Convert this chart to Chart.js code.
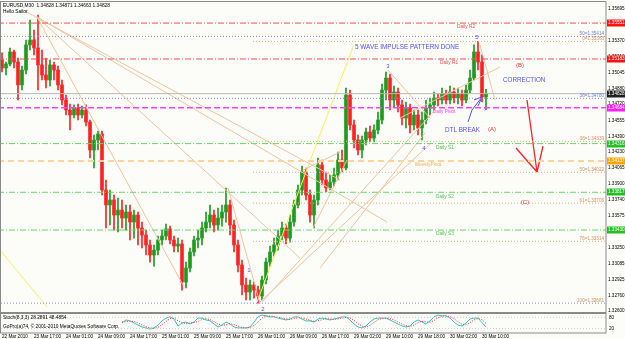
<!DOCTYPE html>
<html>
<head>
<meta charset="utf-8">
<script src="https://cdn.jsdelivr.net/npm/chart.js@4.4.0/dist/chart.umd.min.js"></script>
<style>
  html, body { margin: 0; padding: 0; background: #fcfcf8; }
  canvas { display: block; }
</style>
</head>
<body>
<canvas id="eurusd_chart" width="625" height="339"></canvas>
<script>
// EURUSD M30, one entry per candle
const bar_open = [
  1.35173, 1.35091, 1.35132, 1.35255, 1.35152, 1.34917, 1.35070, 1.35327, 1.35378, 1.35296,
  1.35122, 1.35019, 1.34968, 1.35122, 1.35070, 1.34917, 1.34763, 1.34660, 1.34609, 1.34681,
  1.34609, 1.34660, 1.34537, 1.34250, 1.34353, 1.34414, 1.33840, 1.33687, 1.33738, 1.33584,
  1.33635, 1.33553, 1.33615, 1.33512, 1.33584, 1.33451, 1.33379, 1.33277, 1.33174, 1.33225,
  1.33328, 1.33369, 1.33441, 1.33328, 1.33266, 1.33287, 1.32897, 1.33041, 1.33205, 1.33328,
  1.33348, 1.33451, 1.33512, 1.33584, 1.33482, 1.33553, 1.33615, 1.33687, 1.33482, 1.33277,
  1.33072, 1.32867, 1.32795, 1.32867, 1.32815, 1.32754, 1.32918, 1.33102, 1.33205, 1.33277,
  1.33369, 1.33451, 1.33348, 1.33512, 1.33687, 1.33840, 1.34025, 1.33789, 1.33584, 1.33738,
  1.34097, 1.33943, 1.33861, 1.33922, 1.33994, 1.34148, 1.34066, 1.34814, 1.34507, 1.34353,
  1.34250, 1.34353, 1.34435, 1.34373, 1.34455, 1.34558, 1.34865, 1.34988, 1.34763, 1.34845,
  1.34712, 1.34578, 1.34681, 1.34507, 1.34609, 1.34476, 1.34558, 1.34681, 1.34712, 1.34783,
  1.34763, 1.34824, 1.34763, 1.34845, 1.34783, 1.34824, 1.34763, 1.34865, 1.34988, 1.35255,
  1.35152, 1.34794
];
const bar_high = [
  1.35245, 1.35152, 1.35296, 1.35275, 1.35193, 1.35111, 1.35378, 1.35583, 1.35480, 1.35634,
  1.35275, 1.35193, 1.35173, 1.35152, 1.35111, 1.34968, 1.34814, 1.34722, 1.34712, 1.34722,
  1.34701, 1.34712, 1.34558, 1.34404, 1.34445, 1.34445, 1.33943, 1.33840, 1.33789, 1.33758,
  1.33738, 1.33687, 1.33687, 1.33635, 1.33615, 1.33512, 1.33430, 1.33328, 1.33277, 1.33369,
  1.33430, 1.33492, 1.33471, 1.33369, 1.33348, 1.33328, 1.33102, 1.33246, 1.33369, 1.33430,
  1.33512, 1.33615, 1.33687, 1.33635, 1.33656, 1.33687, 1.33861, 1.33738, 1.33533, 1.33328,
  1.33123, 1.32938, 1.32918, 1.32897, 1.32856, 1.32959, 1.33143, 1.33266, 1.33348, 1.33430,
  1.33512, 1.33492, 1.33584, 1.33738, 1.33892, 1.34086, 1.34066, 1.33840, 1.33789, 1.34168,
  1.34148, 1.34025, 1.33994, 1.34066, 1.34230, 1.34250, 1.34886, 1.34865, 1.34558, 1.34404,
  1.34394, 1.34476, 1.34496, 1.34507, 1.34640, 1.34927, 1.35050, 1.35029, 1.34906, 1.34886,
  1.34763, 1.34742, 1.34722, 1.34660, 1.34660, 1.34640, 1.34763, 1.34783, 1.34845, 1.34824,
  1.34886, 1.34865, 1.34906, 1.34886, 1.34886, 1.34865, 1.34917, 1.35070, 1.35327, 1.35363,
  1.35224, 1.34871
];
const bar_low = [
  1.35050, 1.35019, 1.35111, 1.35091, 1.34763, 1.34865, 1.35029, 1.35275, 1.35224, 1.34865,
  1.34968, 1.34886, 1.34906, 1.34968, 1.34865, 1.34712, 1.34609, 1.34455, 1.34578, 1.34558,
  1.34578, 1.34496, 1.34168, 1.34066, 1.34250, 1.33789, 1.33451, 1.33482, 1.33430, 1.33410,
  1.33451, 1.33430, 1.33328, 1.33348, 1.33277, 1.33246, 1.33174, 1.33102, 1.33061, 1.33174,
  1.33277, 1.33328, 1.33287, 1.33205, 1.33205, 1.32815, 1.32836, 1.33000, 1.33164, 1.33246,
  1.33277, 1.33410, 1.33451, 1.33410, 1.33430, 1.33471, 1.33512, 1.33379, 1.33205, 1.33000,
  1.32764, 1.32713, 1.32713, 1.32733, 1.32681, 1.32713, 1.32877, 1.33061, 1.33164, 1.33225,
  1.33328, 1.33287, 1.33307, 1.33471, 1.33656, 1.33789, 1.33738, 1.33512, 1.33451, 1.33687,
  1.33892, 1.33820, 1.33840, 1.33881, 1.33943, 1.34025, 1.34045, 1.34455, 1.34271, 1.34199,
  1.34168, 1.34302, 1.34332, 1.34332, 1.34414, 1.34517, 1.34763, 1.34660, 1.34681, 1.34640,
  1.34507, 1.34476, 1.34425, 1.34455, 1.34404, 1.34353, 1.34517, 1.34609, 1.34660, 1.34701,
  1.34722, 1.34722, 1.34722, 1.34732, 1.34722, 1.34701, 1.34732, 1.34835, 1.34968, 1.35070,
  1.34742, 1.34663
];
const bar_close = [
  1.35091, 1.35132, 1.35255, 1.35152, 1.34917, 1.35070, 1.35327, 1.35378, 1.35296, 1.35122,
  1.35019, 1.34968, 1.35122, 1.35070, 1.34917, 1.34763, 1.34660, 1.34609, 1.34681, 1.34609,
  1.34660, 1.34537, 1.34250, 1.34353, 1.34414, 1.33840, 1.33687, 1.33738, 1.33584, 1.33635,
  1.33553, 1.33615, 1.33512, 1.33584, 1.33451, 1.33379, 1.33277, 1.33174, 1.33225, 1.33328,
  1.33369, 1.33441, 1.33328, 1.33266, 1.33287, 1.32897, 1.33041, 1.33205, 1.33328, 1.33348,
  1.33451, 1.33512, 1.33584, 1.33482, 1.33553, 1.33615, 1.33687, 1.33482, 1.33277, 1.33072,
  1.32867, 1.32795, 1.32867, 1.32815, 1.32754, 1.32918, 1.33102, 1.33205, 1.33277, 1.33369,
  1.33451, 1.33348, 1.33512, 1.33687, 1.33840, 1.34025, 1.33789, 1.33584, 1.33738, 1.34097,
  1.33943, 1.33861, 1.33922, 1.33994, 1.34148, 1.34066, 1.34814, 1.34507, 1.34353, 1.34250,
  1.34353, 1.34435, 1.34373, 1.34455, 1.34558, 1.34865, 1.34988, 1.34763, 1.34845, 1.34712,
  1.34578, 1.34681, 1.34507, 1.34609, 1.34476, 1.34558, 1.34681, 1.34712, 1.34783, 1.34763,
  1.34824, 1.34763, 1.34845, 1.34783, 1.34824, 1.34763, 1.34865, 1.34988, 1.35255, 1.35152,
  1.34794, 1.34828
];

// stochastic(8,3,3), starts at bar 30
const stoch_first_bar = 30;
const stoch_main = [
  50, 66, 61, 50, 39, 29, 24, 18, 24, 39,
  61, 76, 82, 71, 34, 50, 55, 45, 55, 76,
  76, 66, 61, 45, 29, 39, 55, 45, 29, 24,
  24, 24, 29, 55, 82, 92, 87, 82, 82, 76,
  71, 66, 71, 82, 82, 71, 61, 61, 55, 71,
  76, 71, 66, 71, 76, 82, 82, 66, 45, 29,
  24, 34, 55, 71, 76, 76, 76, 66, 55, 45,
  34, 29, 34, 55, 66, 55, 45, 61, 82, 92,
  87, 87, 76, 55, 39, 34, 50, 71, 76, 76,
  52, 28.29
];
const stoch_signal = [
  55, 58, 60, 58, 50, 40, 31, 24, 22, 27,
  41, 58, 73, 76, 62, 52, 46, 50, 52, 58,
  69, 73, 68, 57, 45, 38, 41, 46, 43, 33,
  26, 24, 26, 36, 55, 76, 87, 87, 84, 80,
  76, 71, 69, 73, 78, 78, 71, 64, 59, 62,
  67, 73, 71, 69, 71, 76, 80, 77, 64, 47,
  33, 29, 38, 53, 67, 74, 76, 73, 66, 55,
  45, 36, 32, 39, 52, 59, 55, 54, 63, 78,
  87, 89, 83, 73, 57, 43, 41, 52, 66, 74,
  68, 48.49
];
const stoch_levels = [80, 20];

const time_labels = ["22 Mar 2010", "23 Mar 17:00", "24 Mar 01:00", "24 Mar 09:00", "24 Mar 17:00",
  "25 Mar 01:00", "25 Mar 09:00", "25 Mar 17:00", "26 Mar 01:00", "26 Mar 09:00", "26 Mar 17:00",
  "29 Mar 02:00", "29 Mar 10:00", "29 Mar 18:00", "30 Mar 02:00", "30 Mar 10:00"];
const time_label_bars = [0, 8, 16, 24, 32, 40, 48, 56, 64, 72, 80, 88, 96, 104, 112, 120];

const price_ticks = [1.32600, 1.32760, 1.32925, 1.33085, 1.33250, 1.33415, 1.33575, 1.33740, 1.33900, 1.34065,
  1.34230, 1.34390, 1.34555, 1.34720, 1.34880, 1.35045, 1.35210, 1.35370, 1.35535, 1.35695];

const pivot_names = ["Daily R2", "Daily R1", "Daily Pivot", "Daily S1", "Daily S2", "Daily S3"];
const pivot_values = [1.35551, 1.35183, 1.34684, 1.34316, 1.33817, 1.33430];
const weekly_pivot = 1.34137;
const last_price = 1.34828;

const fib_blue_names = ["50=1.35414", "38=1.34780", "100=1.32681"];
const fib_blue_values = [1.35414, 1.34780, 1.32681];
const fib_orange_names = ["0=1.35363", "38=1.34339", "50=1.34022", "61=1.33706", "76=1.33314"];
const fib_orange_values = [1.35363, 1.34339, 1.34022, 1.33706, 1.33314];
const fib_orange_from_bar = 62.75;

// drawn objects: [bar, price] end points
const fan_lines = [
  [[5.25, 1.35685], [84.5, 1.33943]],
  [[8.75, 1.35614], [96.25, 1.33512]],
  [[8.75, 1.35614], [74.5, 1.33143]],
  [[8.75, 1.35614], [45.25, 1.32867]],
  [[56.5, 1.33861], [64.5, 1.32681]],
  [[65, 1.32692], [108.25, 1.34660]],
  [[64.5, 1.32692], [107, 1.34312]],
  [[79.5, 1.33041], [105.75, 1.34425]],
  [[96.5, 1.35070], [107, 1.34578]],
  [[99.5, 1.34578], [124.5, 1.35101]],
  [[119.5, 1.35327], [123.25, 1.34763]],
  [[75.25, 1.34045], [84.5, 1.34230]],
  [[77.75, 1.33451], [86.25, 1.34148]]
];
const yellow_lines = [
  [[63.75, 1.32692], [87.75, 1.35306]],
  [[-0.5, 1.33225], [11.25, 1.32641]]
];
const red_arrow = [
  [[131.25, 1.34763], [133.75, 1.34025]],
  [[128.5, 1.34271], [133.75, 1.34025]],
  [[135.25, 1.34291], [133.75, 1.34025]]
];
const blue_arrow = [
  [[116.5, 1.34537], [117.5, 1.34660], [120, 1.34794]],
  [[118, 1.34763], [120, 1.34794]],
  [[119, 1.34701], [120, 1.34794]]
];

const main_min = 1.32375, main_max = 1.35767;
const bull_color = "#1f9a1f";
const bear_color = "#ff2222";
const note_blue = "#5050ff";
const note_red = "#f03030";
const font_name = "'Liberation Sans', Arial, sans-serif";

function seg(points, color, width, dash, axis) {
  return {
    type: "line",
    data: points.map(function (p) { return {x: p[0], y: p[1]}; }),
    borderColor: color,
    borderWidth: width,
    borderDash: dash,
    pointRadius: 0,
    fill: false,
    tension: 0,
    yAxisID: axis || "y",
    order: 1
  };
}

function hline(price, from_bar, color, width, dash) {
  return seg([[from_bar, price], [151, price]], color, width, dash);
}

function build_datasets() {
  let sets = [];
  let wick_data = [], body_data = [], colors = [];
  for (let i = 0; i < bar_close.length; i++) {
    wick_data.push({x: i, y: [bar_low[i], bar_high[i]]});
    body_data.push({x: i, y: [bar_open[i], bar_close[i]]});
    colors.push(bar_close[i] >= bar_open[i] ? bull_color : bear_color);
  }

  // levels
  sets.push(hline(last_price, -1, "#b8b8b8", 1, []));
  sets.push(hline(pivot_values[0], -1, "#f05050", 1, [6, 2, 1, 2]));
  sets.push(hline(pivot_values[1], -1, "#f05050", 1, [6, 2, 1, 2]));
  sets.push(hline(pivot_values[2], -1, "#ff40ff", 1.5, [6, 3]));
  sets.push(hline(pivot_values[3], -1, "#66d866", 1, [6, 2, 1, 2]));
  sets.push(hline(pivot_values[4], -1, "#66d866", 1, [6, 2, 1, 2]));
  sets.push(hline(pivot_values[5], -1, "#66d866", 1, [6, 2, 1, 2]));
  sets.push(hline(weekly_pivot, -1, "#ffd49a", 2, [6, 4]));
  fib_blue_values.forEach(function (v) { sets.push(hline(v, -1, "#8090e0", 1, [1, 2])); });
  fib_orange_values.forEach(function (v) { sets.push(hline(v, fib_orange_from_bar, "#eab080", 1, [1, 2])); });

  fan_lines.forEach(function (l) { sets.push(seg(l, "#efc5a0", 1, [])); });
  yellow_lines.forEach(function (l) { sets.push(seg(l, "#f5f060", 1, [])); });
  red_arrow.forEach(function (l) { sets.push(seg(l, "#ff2020", 1.3, [])); });
  blue_arrow.forEach(function (l) { sets.push(seg(l, "#5050ff", 1, [])); });

  // stochastic panel
  stoch_levels.forEach(function (v) {
    sets.push(seg([[-1, v], [151, v]], "#c8c8c8", 1, [1, 2], "y2"));
  });
  sets.push(seg(stoch_signal.map(function (v, k) { return [stoch_first_bar + k, v]; }), "#ff3030", 1, [1, 1.5], "y2"));
  sets.push(seg(stoch_main.map(function (v, k) { return [stoch_first_bar + k, v]; }), "#3cc0c0", 1, [], "y2"));

  sets.push({
    type: "bar", data: body_data, backgroundColor: colors,
    barThickness: 3, grouped: false, order: 5, yAxisID: "y"
  });
  sets.push({
    type: "bar", data: wick_data, backgroundColor: colors,
    barThickness: 1, grouped: false, order: 6, yAxisID: "y"
  });
  return sets;
}

function put_text(ctx, txt, x, y, color, size, align, base) {
  ctx.font = size + "px " + font_name;
  ctx.fillStyle = color;
  ctx.textAlign = align || "left";
  ctx.textBaseline = base || "middle";
  ctx.fillText(txt, x, y);
}

const chart_extras = {
  id: "chart_extras",
  beforeDraw: function (chart) {
    let ctx = chart.ctx;
    ctx.save();
    ctx.fillStyle = "#fcfcf8";
    ctx.fillRect(0, 0, chart.width, chart.height);
    ctx.restore();
  },
  afterDraw: function (chart) {
    let ctx = chart.ctx;
    let area = chart.chartArea;
    let xs = chart.scales.x, ys = chart.scales.y, ys2 = chart.scales.y2;
    let px = function (b) { return xs.getPixelForValue(b); };
    let py = function (p) { return ys.getPixelForValue(p); };
    ctx.save();

    // panel frames
    let main_bottom = Math.round(py(1.3259)) + 0.5;
    let sub_top = Math.round(ys2.getPixelForValue(100)) - 0.5;
    ctx.strokeStyle = "#8a8a8a";
    ctx.lineWidth = 1;
    ctx.strokeRect(0.5, area.top - 0.5, area.right - 0.5, main_bottom - area.top + 0.5);
    ctx.strokeRect(0.5, sub_top, area.right - 0.5, area.bottom - sub_top);

    // headers
    put_text(ctx, "EURUSD,M30  1.34828 1.34871 1.34663 1.34828", 3, area.top + 3.5, "#000", 4.8);
    put_text(ctx, "Hello Sailor", 3, area.top + 9.5, "#000", 4.8);
    put_text(ctx, "Stoch(8,3,3) 28.2891 48.4854", 3, sub_top + 4.5, "#000", 4.8);
    put_text(ctx, "GoPro(a)74, \u00a9 2001-2010 MetaQuotes Software Corp.", 3, sub_top + 13, "#000", 4.8);
    stoch_levels.forEach(function (v) {
      put_text(ctx, String(v), area.right + 3, ys2.getPixelForValue(v), "#000", 4.6);
    });

    // level names
    let name_bars = [116, 111.75, 110.5, 110.75, 110.75, 110.75];
    let name_colors = ["#f05050", "#f05050", "#ff40ff", "#50c850", "#50c850", "#50c850"];
    pivot_names.forEach(function (n, k) {
      put_text(ctx, n, px(name_bars[k]), py(pivot_values[k]) + 1.5, name_colors[k], 4.8, "center", "top");
    });
    put_text(ctx, "WeeklyPivot", px(106.5), py(weekly_pivot) + 1.5, "#f0b060", 4.8, "center", "top");
    fib_blue_names.forEach(function (n, k) {
      put_text(ctx, n, area.right - 2, py(fib_blue_values[k]) - 0.5, k < 2 ? "#7080d8" : "#d89060", 4.6, "right", "bottom");
    });
    fib_orange_names.forEach(function (n, k) {
      put_text(ctx, n, area.right - 2, py(fib_orange_values[k]) - 0.5, "#d89060", 4.6, "right", "bottom");
    });

    // wave notes
    put_text(ctx, "5 WAVE IMPULSE PATTERN DONE", px(88.25), py(1.35306), note_blue, 6.4);
    put_text(ctx, "CORRECTION", px(125.25), py(1.34968), note_blue, 6.3);
    put_text(ctx, "DTL BREAK", px(110.75), py(1.34455), note_blue, 6.3);
    put_text(ctx, "3", px(96.5), py(1.35111), note_blue, 6, "center");
    put_text(ctx, "5", px(118.75), py(1.35409), note_blue, 6, "center");
    put_text(ctx, "1", px(61.75), py(1.3302), note_blue, 6, "center");
    put_text(ctx, "2", px(65.25), py(1.3262), note_blue, 6, "center");
    put_text(ctx, "4", px(105.5), py(1.34271), note_blue, 6, "center");
    put_text(ctx, "(B)", px(129.5), py(1.35122), note_red, 6, "center");
    put_text(ctx, "(A)", px(122.5), py(1.34466), note_red, 6, "center");
    put_text(ctx, "(C)", px(130.75), py(1.33717), note_red, 6, "center");

    // price boxes on the axis
    let boxes = [
      [pivot_values[0], "#ff1010"], [pivot_values[1], "#ff1010"], [last_price, "#202020"],
      [pivot_values[2], "#ff20ff"], [pivot_values[3], "#22c022"], [weekly_pivot, "#ffa500"],
      [pivot_values[4], "#22c022"], [pivot_values[5], "#22c022"]
    ];
    boxes.forEach(function (b) {
      let y = Math.round(py(b[0]));
      ctx.fillStyle = b[1];
      ctx.fillRect(area.right + 1, y - 3.5, chart.width - area.right - 1, 7);
      put_text(ctx, b[0].toFixed(5), area.right + 2, y, "#fff", 4.6);
    });
    ctx.restore();
  }
};

function draw_chart() {
  new Chart("eurusd_chart", {
    type: "bar",
    data: {datasets: build_datasets()},
    options: {
      responsive: false,
      animation: false,
      devicePixelRatio: 1,
      layout: {padding: {top: 2, left: 1, right: 0, bottom: 0}},
      plugins: {legend: {display: false}, tooltip: {enabled: false}},
      scales: {
        x: {
          type: "linear", min: -0.25, max: 151, offset: false, bounds: "data",
          grid: {display: false, drawTicks: false}, border: {display: false},
          ticks: {
            autoSkip: false, maxRotation: 0, minRotation: 0, align: "start", padding: 1,
            color: "#000", font: {family: font_name, size: 4.6},
            callback: function (value, index) { return time_labels[index]; }
          },
          afterBuildTicks: function (s) {
            s.ticks = time_label_bars.map(function (v) { return {value: v}; });
          },
          afterFit: function (s) { s.height = 6; s.paddingLeft = 0; s.paddingRight = 0; }
        },
        y: {
          type: "linear", position: "right", min: main_min, max: main_max, bounds: "data",
          grid: {display: false, drawTicks: false}, border: {display: false},
          ticks: {
            padding: 2, color: "#000", font: {family: font_name, size: 4.6},
            callback: function (v) { return v.toFixed(5); }
          },
          afterBuildTicks: function (s) {
            s.ticks = price_ticks.map(function (v) { return {value: v}; });
          },
          afterFit: function (s) { s.width = 19; s.paddingTop = 0; s.paddingBottom = 0; }
        },
        y2: {type: "linear", display: false, min: -2.63, max: 1739.5, bounds: "data"}
      }
    },
    plugins: [chart_extras]
  });
}

draw_chart();
</script>
</body>
</html>
